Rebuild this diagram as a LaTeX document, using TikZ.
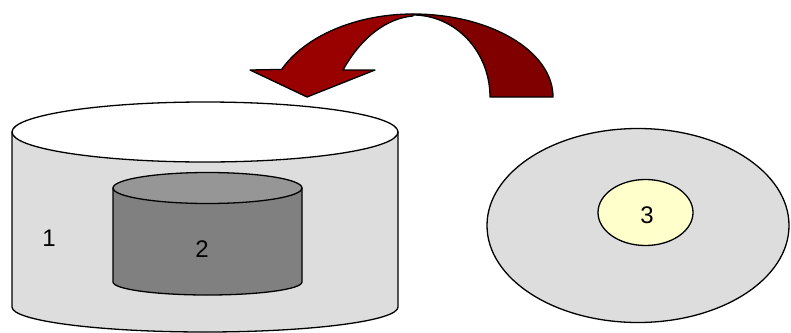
\documentclass[tikz,border=0pt]{standalone}
\usepackage{fontspec}
\setmainfont{Liberation Sans}
\begin{document}
\begin{tikzpicture}[x=1pt,y=-1pt,line width=1.3pt,
  lbl/.style={font=\fontsize{24}{28}\selectfont, inner sep=0pt},
  outline/.style={draw=black, line join=round}]
\useasboundingbox (0,0) rectangle (791,332);
% big cylinder
\path[outline, fill={rgb,255:red,221;green,221;blue,221}]
  (12,132) -- (12,307) arc[start angle=180, end angle=0, x radius=193, y radius=25] -- (398,132) -- cycle;
\path[outline, fill=white] (205,132) ellipse[x radius=193, y radius=30];
% inner cylinder
\path[outline, fill={rgb,255:red,128;green,128;blue,128}]
  (113,188) -- (113,282) arc[start angle=180, end angle=0, x radius=94.5, y radius=13] -- (302,188) -- cycle;
\path[outline, fill={rgb,255:red,150;green,150;blue,150}] (207.5,188) ellipse[x radius=94.5, y radius=15.5];
\node[lbl] (l1) at (49,238.5) {1};
\node[lbl] (l2) at (202,249) {2};
% disc
\path[outline, fill={rgb,255:red,221;green,221;blue,221}] (638,225.5) ellipse[x radius=151, y radius=97];
\path[outline, fill={rgb,255:red,255;green,255;blue,204}] (645.5,212.5) ellipse[x radius=47.5, y radius=33];
\node[lbl] (l3) at (647,215) {3};
% curved arrow
\path[outline, fill={rgb,255:red,128;green,0;blue,0}]
  (553,97) arc[start angle=0, end angle=-90, x radius=140, y radius=83]
  -- (413,15) arc[start angle=-90, end angle=0, x radius=77, y radius=82]
  -- cycle;
\path[outline, fill={rgb,255:red,153;green,0;blue,0}]
  (413,14) arc[start angle=-90, end angle=-155, x radius=145, y radius=96]
  -- (250,70) -- (307,97) -- (375,70) -- (343,70)
  .. controls (362,36) and (388,18) .. (413,16) -- cycle;
\end{tikzpicture}
\end{document}
